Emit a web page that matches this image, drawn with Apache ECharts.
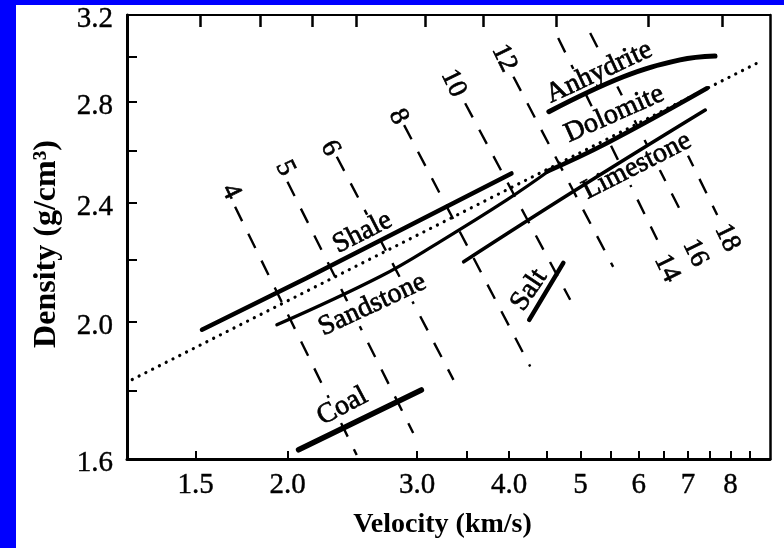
<!DOCTYPE html>
<html><head><meta charset="utf-8">
<script src="https://cdn.jsdelivr.net/npm/echarts@6/dist/echarts.min.js"></script>
<style>
html,body{margin:0;padding:0;width:784px;height:548px;background:#0000ff;overflow:hidden}
#chart{position:absolute;left:16px;top:5px;width:768px;height:543px;background:#fff}
</style></head><body><div id="chart"></div>
<script>
// ---------- data: velocity (km/s), density (g/cm3) ----------
const velocityTickValues = [1.5, 2.0, 3.0, 4.0, 5, 6, 7, 8];
const velocityTickLabels = ['1.5', '2.0', '3.0', '4.0', '5', '6', '7', '8'];
const velocityMinorTicks = [3.5, 4.5, 5.5, 6.5, 7.5, 8.5];
const topAxisTicks = [1.52, 1.835, 2.16, 2.48, 3.08, 3.69, 4.63, 6.19, 7.79];
const densityTickValues = [1.6201, 2.0, 2.4, 2.8, 3.1999];
const densityTickLabels = ['1.6', '2.0', '2.4', '2.8', '3.2'];
const densityMinorTicks = [1.8, 2.2, 2.6, 3.0];

const gardner = [[1.23, 1.83], [8.78, 2.98]];
const shale = [[1.53, 1.975], [2.12, 2.137], [4.03, 2.51]];
const sandstone = [[1.934, 1.99], [2.672, 2.143], [3.224, 2.261], [3.972, 2.41], [4.549, 2.523]];
const dolomite = [[4.50, 2.517], [5.43, 2.629], [7.43, 2.86]];
const limestone = [[3.47, 2.192], [4.89, 2.441], [7.39, 2.766]];
const anhydrite = [[4.53, 2.759], [5.72, 2.911], [6.83, 2.987], [7.62, 3.005]];
const salt = [[4.26, 2.005], [4.74, 2.188]];
const coal = [[2.07, 1.643], [3.04, 1.801]];

const impedance = [4, 5, 6, 8, 10, 12, 14, 16, 18];
const impedanceUpperEnd = [[1.697, 2.385], [1.999, 2.478], [2.333, 2.575], [2.880, 2.703], [3.486, 2.795], [4.055, 2.911], [4.664, 3.089], [5.155, 3.113], [6.962, 2.594]];
const impedanceLowerEnd = [[2.483, 1.630], [2.963, 1.686], [3.361, 1.829], [4.273, 1.867], [4.843, 2.068], [5.540, 2.175], [6.359, 2.267], [6.941, 2.337], [7.672, 2.355]];

const rockNames = ['Shale', 'Sandstone', 'Limestone', 'Dolomite', 'Anhydrite', 'Salt', 'Coal'];

// ---------- annotation anchors (data space) and styles ----------
const annotations = {
  rockAt: [[2.528, 2.292], [2.608, 2.052], [5.967, 2.539], [5.558, 2.749], [5.302, 2.931], [4.259, 2.099], [2.374, 1.756]],
  rockAngle: [27, 25, 27, 24, 25, 56, 28],
  impedanceAt: [[1.674, 2.441], [1.985, 2.530], [2.285, 2.609], [2.829, 2.738], [3.361, 2.882], [3.939, 2.995], [6.554, 2.170], [7.162, 2.222], [7.916, 2.274]]
};

const BLACK = '#000';
const SERIF = '"Liberation Serif", "DejaVu Serif", serif';

function pickLabel(values, labels, richKey) {
  return function (v) {
    for (let i = 0; i < values.length; i++) {
      if (Math.abs(values[i] - v) < 1e-3) return richKey ? '{' + richKey + '|' + labels[i] + '}' : labels[i];
    }
    return '';
  };
}

const series = [];
impedance.forEach(function (z, i) {
  series.push({
    type: 'line', name: 'Z' + z, data: [impedanceUpperEnd[i], impedanceLowerEnd[i]],
    symbol: 'none', z: 1, silent: true,
    lineStyle: { color: BLACK, width: 2.4, type: [16, 14] }
  });
});
series.push({
  type: 'line', name: 'Gardner', data: gardner, symbol: 'none', z: 3, silent: true,
  lineStyle: { color: BLACK, width: 3.2, type: [0.1, 7.5], cap: 'round' }
});
function solid(name, data, width, smooth) {
  return {
    type: 'line', name: name, data: data, symbol: 'none', z: 4, silent: true,
    smooth: smooth || false,
    lineStyle: { color: BLACK, width: width, cap: 'round' }
  };
}
series.push(solid('Shale', shale, 4.5));
series.push(solid('Sandstone', sandstone, 3.2, 0.4));
series.push(solid('Dolomite', dolomite, 4.5, 0.4));
series.push(solid('Limestone', limestone, 3.6, 0.4));
series.push(solid('Anhydrite', anhydrite, 5, 0.4));
series.push(solid('Salt', salt, 4.5));
series.push(solid('Coal', coal, 5.5));

const labelData = [];
rockNames.forEach(function (n, i) {
  labelData.push({
    value: annotations.rockAt[i], text: n,
    label: { rotate: annotations.rockAngle[i], fontSize: 28 }
  });
});
impedance.forEach(function (z, i) {
  labelData.push({
    value: annotations.impedanceAt[i], text: String(z),
    label: { rotate: -64, fontSize: 27, padding: [0, 1] }
  });
});
series.push({
  type: 'scatter', name: 'labels', z: 2, silent: true, symbolSize: 1,
  itemStyle: { color: 'transparent' },
  data: labelData,
  label: {
    show: true, position: 'inside', color: BLACK, fontFamily: SERIF,
    textBorderWidth: 0.7, textBorderColor: BLACK, textShadowBlur: 0, opacity: 1,
    backgroundColor: '#fff', padding: [0, 2],
    formatter: function (p) { return p.data.text; }
  },
  labelLayout: { hideOverlap: false }
});

const tickText = { color: BLACK, fontFamily: SERIF, fontSize: 29, textBorderColor: BLACK, textBorderWidth: 0.4 };

const chart = echarts.init(document.getElementById('chart'), null, { renderer: 'canvas' });
chart.setOption({
  animation: false,
  backgroundColor: '#fff',
  grid: { left: 111, top: 10, right: 14, bottom: 89, containLabel: false, outerBoundsMode: 'none' },
  xAxis: [{
    type: 'log', min: 1.21, max: 9.05, position: 'bottom',
    axisLine: { show: true, onZero: false, lineStyle: { color: BLACK, width: 3 } },
    axisTick: { show: true, inside: true, length: 8, customValues: velocityTickValues.concat(velocityMinorTicks), lineStyle: { color: BLACK, width: 2 } },
    axisLabel: Object.assign({ show: true, customValues: velocityTickValues, formatter: pickLabel(velocityTickValues, velocityTickLabels), margin: 12 }, tickText),
    splitLine: { show: false }, minorTick: { show: false },
    name: 'Velocity (km/s)', nameLocation: 'middle', nameGap: 52,
    nameTextStyle: { color: BLACK, fontFamily: SERIF, fontWeight: 'bold', fontSize: 28, padding: [0, 12, 0, 0] }
  }, {
    type: 'log', min: 1.21, max: 9.05, position: 'top',
    axisLine: { show: true, onZero: false, lineStyle: { color: BLACK, width: 2 } },
    axisTick: { show: true, inside: true, length: 12, customValues: topAxisTicks, lineStyle: { color: BLACK, width: 2.5 } },
    axisLabel: { show: false }, splitLine: { show: false }
  }],
  yAxis: [{
    type: 'log', min: 1.62, max: 3.2, position: 'left',
    axisLine: { show: true, onZero: false, lineStyle: { color: BLACK, width: 3 } },
    axisTick: { show: true, inside: true, length: 10, customValues: [2.0, 2.4, 2.8].concat(densityMinorTicks), lineStyle: { color: BLACK, width: 2 } },
    axisLabel: Object.assign({
      show: true, customValues: densityTickValues, formatter: pickLabel(densityTickValues, densityTickLabels, 'd'), margin: 14,
      rich: { d: { color: BLACK, fontFamily: SERIF, fontSize: 29, padding: [9, 0, 0, 0], textBorderColor: BLACK, textBorderWidth: 0.4 } }
    }, tickText),
    splitLine: { show: false }, minorTick: { show: false },
    name: 'Density (g/cm³)', nameLocation: 'middle', nameGap: 64, nameRotate: 90,
    nameTextStyle: { color: BLACK, fontFamily: SERIF, fontWeight: 'bold', fontSize: 32, padding: [0, 14, 0, 0] }
  }, {
    type: 'log', min: 1.62, max: 3.2, position: 'right',
    axisLine: { show: true, onZero: false, lineStyle: { color: BLACK, width: 2.5 } },
    axisTick: { show: false }, axisLabel: { show: false }, splitLine: { show: false }
  }],
  series: series
});
</script></body></html>
